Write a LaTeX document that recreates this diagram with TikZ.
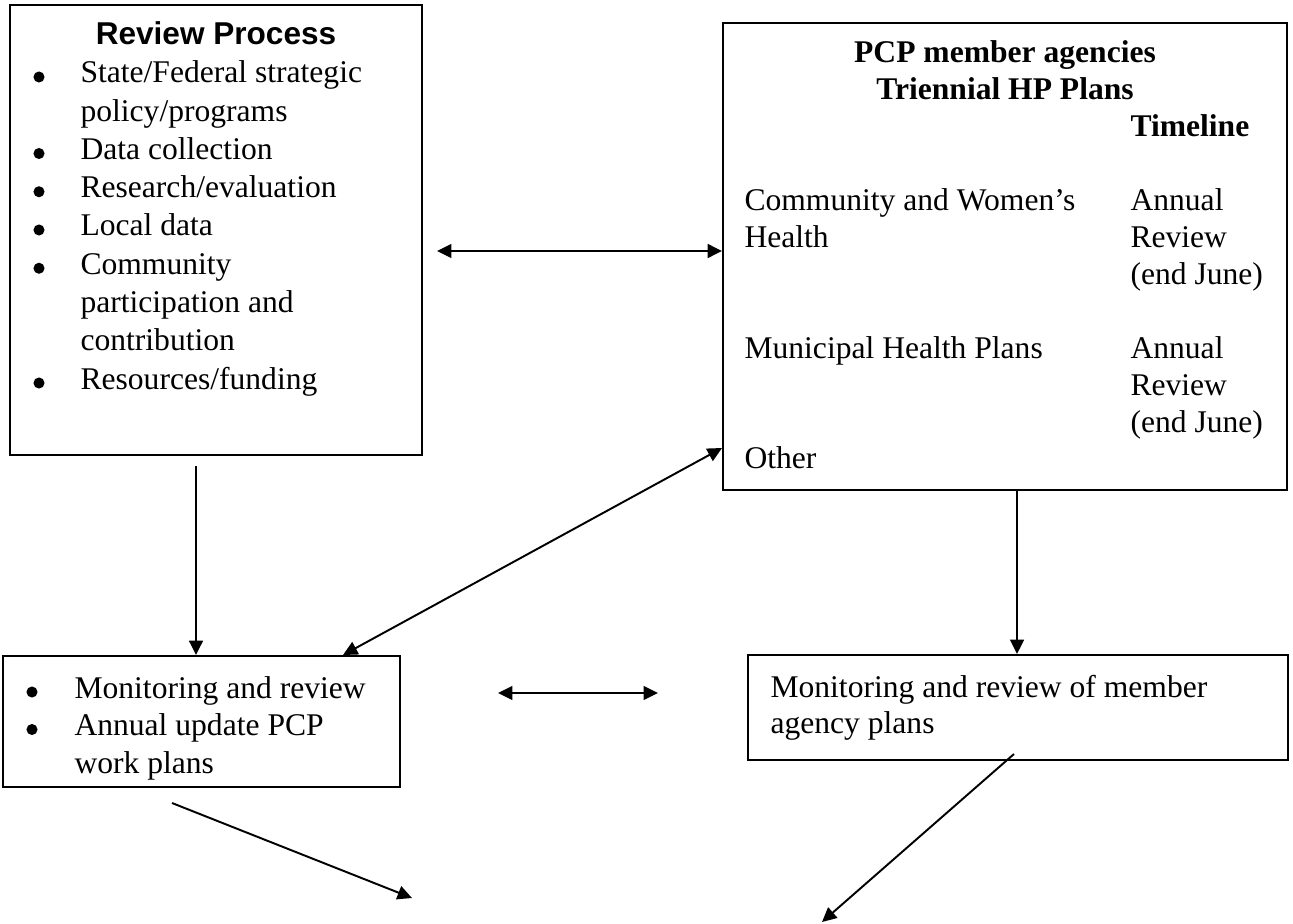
\documentclass[tikz,border=0pt]{standalone}
\usepackage{fontspec}
\setmainfont{Liberation Serif}
\newfontfamily\headfont{Liberation Sans}
\usetikzlibrary{arrows.meta}
\newcommand{\pxl}{0.361pt}
\newcommand{\sz}{\fontsize{11.4}{13.8}\selectfont}

\begin{document}
\begin{tikzpicture}[x=\pxl,y=-\pxl]
  \tikzstyle{every node} = [font=\sz, inner sep=0pt]
  \tikzstyle{box} = [draw, line width=0.7pt, rectangle]
  \tikzstyle{txt} = [anchor=base west]
  \tikzstyle{bul} = [circle, fill, minimum size=4pt]
  \tikzstyle{head} = [font=\sz\bfseries]
  \tikzstyle{sanshead} = [font=\headfont\bfseries\sz]
  \tikzstyle{arr} = [line width=0.7pt, -{Triangle[length=5.2pt,width=5pt]}]
  \tikzstyle{dbl} = [line width=0.7pt, {Triangle[length=5.2pt,width=5pt]}-{Triangle[length=5.2pt,width=5pt]}]
  \useasboundingbox (0,0) rectangle (1293,924);

  % boxes
  \node[box, minimum width=412*\pxl, minimum height=450*\pxl] (review) at (216,230) {};
  \node[box, minimum width=564*\pxl, minimum height=467*\pxl] (plans) at (1005,256.5) {};
  \node[box, minimum width=397*\pxl, minimum height=131*\pxl] (monitor) at (201.5,721.5) {};
  \node[box, minimum width=540*\pxl, minimum height=105*\pxl] (agency) at (1018,707.5) {};

  % review process
  \node[sanshead, anchor=base] (rvtitle) at (216,45) {Review Process};
  \foreach \r/\t in {0/{State/Federal strategic}, 1/{policy/programs}, 2/{Data collection},
      3/{Research/evaluation}, 4/{Local data}, 5/{Community}, 6/{participation and},
      7/{contribution}, 8/{Resources/funding}}{
    \node[txt] (rv\r) at (80, 83+38.25*\r) {\t};
  }
  \foreach \r in {0,2,3,4,5,8}{
    \node[bul] (rb\r) at (39, 77+38.25*\r) {};
  }

  % member agency plans
  \node[head, anchor=base] (pcp1) at (1005,63) {PCP member agencies};
  \node[head, anchor=base] (pcp2) at (1005,100) {Triennial HP Plans};
  \node[head, txt] (tl) at (1130,137) {Timeline};
  \foreach \x/\r/\t in {744/4/{Community and Women's}, 744/5/{Health},
      1130/4/{Annual}, 1130/5/{Review}, 1130/6/{(end June)},
      744/8/{Municipal Health Plans}, 1130/8/{Annual}, 1130/9/{Review},
      1130/10/{(end June)}, 744/11/{Other}}{
    \node[txt] (pl\r\x) at (\x, 63+36.9*\r) {\t};
  }

  % monitoring boxes
  \foreach \r/\t in {0/{Monitoring and review}, 1/{Annual update PCP}, 2/{work plans}}{
    \node[txt] (mn\r) at (74, 698+37.5*\r) {\t};
  }
  \foreach \r in {0,1}{
    \node[bul] (mb\r) at (32, 692+37.5*\r) {};
  }
  \node[txt] (ag0) at (770,697) {Monitoring and review of member};
  \node[txt] (ag1) at (770,733) {agency plans};

  % connectors
  \coordinate (l1) at (437,251);
  \draw[dbl] (l1) -- (l1 -| plans.west);
  \coordinate (l2) at (196,466);
  \draw[arr] (l2) -- (l2 |- monitor.north);
  \draw[dbl] (plans.west |- 0,448) -- (monitor.north -| 343,0);
  \draw[arr] (plans.south -| 1017,0) -- (agency.north -| 1017,0);
  \coordinate (l5a) at (498,693);
  \coordinate (l5b) at (658,693);
  \draw[dbl] (l5a) -- (l5b);
  \coordinate (l6a) at (172,803);
  \coordinate (l6b) at (412,898);
  \draw[arr] (l6a) -- (l6b);
  \coordinate (l7a) at (1014,754);
  \coordinate (l7b) at (822,922);
  \draw[arr] (l7a) -- (l7b);
\end{tikzpicture}
\end{document}
